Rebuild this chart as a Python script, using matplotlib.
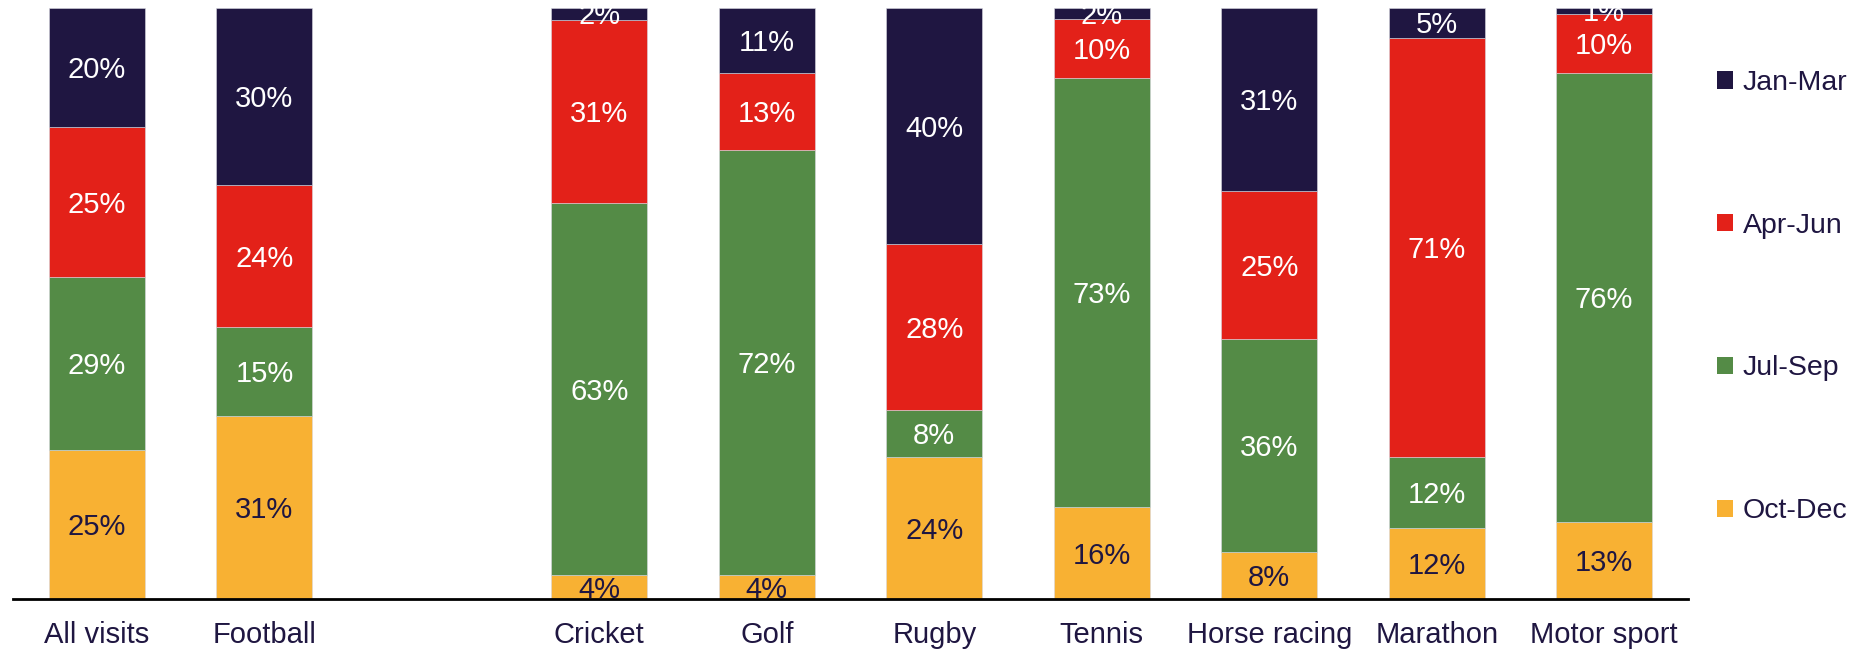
import numpy as np
import matplotlib.pyplot as plt
from matplotlib.patches import Patch

plt.rcParams['font.family'] = ['Liberation Sans', 'DejaVu Sans']

# share of visits by quarter, per sport (%)
categories = ['All visits', 'Football', 'Cricket', 'Golf', 'Rugby',
              'Tennis', 'Horse racing', 'Marathon', 'Motor sport']
slots = [0, 1, 3, 4, 5, 6, 7, 8, 9]   # empty slot after Football
oct_dec = [25.2, 31, 4, 4, 24, 15.5, 8, 12, 13]
jul_sep = [29.3, 15, 63, 72, 8, 72.6, 36, 12, 76]
apr_jun = [25.3, 24, 31, 13, 28, 10.0, 25, 71, 10]
jan_mar = [20.2, 30, 2, 11, 40, 1.9, 31, 5, 1]

navy = '#1f1641'
series = [
    ('Oct-Dec', oct_dec, '#f8b133', navy),
    ('Jul-Sep', jul_sep, '#548b46', 'white'),
    ('Apr-Jun', apr_jun, '#e32119', 'white'),
    ('Jan-Mar', jan_mar, navy, 'white'),
]

fig = plt.figure(figsize=(18.73, 6.5), dpi=100)
ax = fig.add_axes([0.00707, 0.0785, 0.8941, 0.9092])

bottom = np.zeros(len(categories))
for name, vals, col, tcol in series:
    vals = np.array(vals, dtype=float)
    ax.bar(slots, vals, width=0.573, bottom=bottom, color=col,
           edgecolor='#d8d8e0', linewidth=0.4, label=name)
    # segment labels, nudged a touch below the segment middle
    for x, b, v in zip(slots, bottom, vals):
        t = ax.annotate(f'{v:.0f}%', (x, b + v / 2), xytext=(0, -1.8),
                        textcoords='offset points', ha='center', va='center',
                        color=tcol, fontsize=21)
        t.set_clip_on(True)
    bottom += vals

ax.set_xlim(-0.5, 9.5)
ax.set_ylim(0, 100)
ax.set_xticks(slots)
ax.set_xticklabels(categories, fontsize=21, color=navy)
ax.tick_params(axis='x', length=0, pad=16)
ax.set_yticks([])
for s in ['top', 'left', 'right']:
    ax.spines[s].set_visible(False)
ax.spines['bottom'].set_linewidth(2)
ax.spines['bottom'].set_color('black')

handles = [Patch(facecolor=c, edgecolor='none') for _, _, c, _ in series[::-1]]
labels = [n for n, _, _, _ in series[::-1]]
leg = fig.legend(handles, labels, loc='upper left',
                 bbox_to_anchor=(1717 / 1873, 1 - 70 / 650),
                 frameon=False, fontsize=20.5, labelspacing=4.1,
                 handlelength=0.55, handleheight=0.55, handletextpad=0.35,
                 borderpad=0, borderaxespad=0)
for t in leg.get_texts():
    t.set_color(navy)

fig.savefig('out.png', dpi=100)
